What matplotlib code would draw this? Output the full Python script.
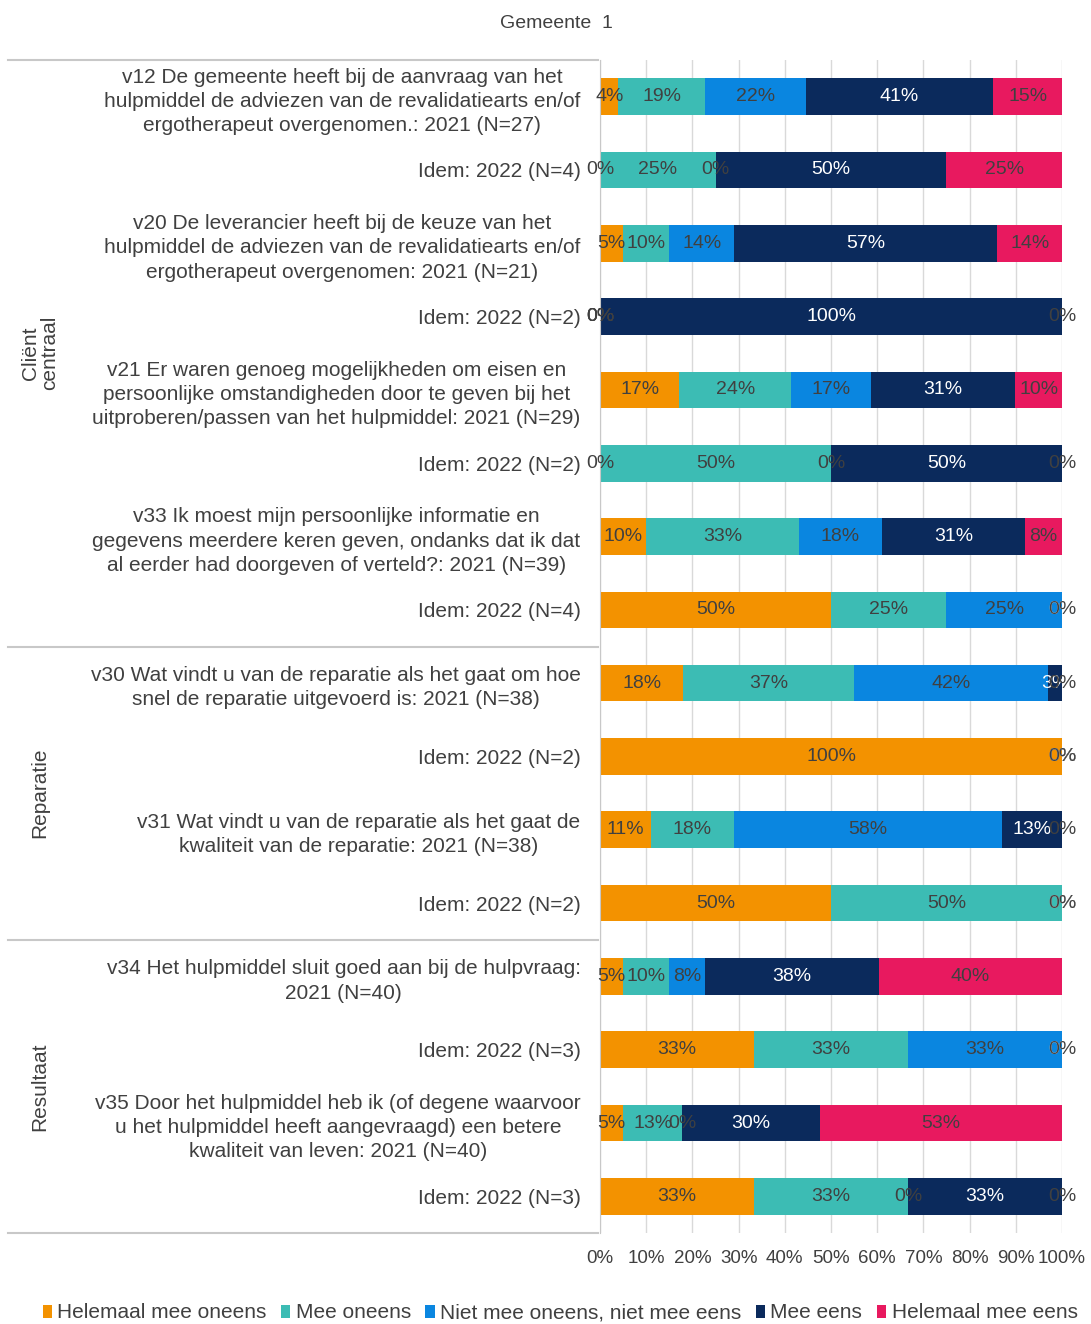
import matplotlib.pyplot as plt
import numpy as np
from matplotlib.lines import Line2D
from matplotlib.patches import Patch

# Font
plt.rcParams['font.family'] = ['Liberation Sans', 'DejaVu Sans']

# Data
categories = [
    'v12 De gemeente heeft bij de aanvraag van het\nhulpmiddel de adviezen van de revalidatiearts en/of\nergotherapeut overgenomen.: 2021 (N=27)',
    'Idem: 2022 (N=4)',
    'v20 De leverancier heeft bij de keuze van het\nhulpmiddel de adviezen van de revalidatiearts en/of\nergotherapeut overgenomen: 2021 (N=21)',
    'Idem: 2022 (N=2)',
    'v21 Er waren genoeg mogelijkheden om eisen en\npersoonlijke omstandigheden door te geven bij het\nuitproberen/passen van het hulpmiddel: 2021 (N=29)',
    'Idem: 2022 (N=2)',
    'v33 Ik moest mijn persoonlijke informatie en\ngegevens meerdere keren geven, ondanks dat ik dat\nal eerder had doorgeven of verteld?: 2021 (N=39)',
    'Idem: 2022 (N=4)',
    'v30 Wat vindt u van de reparatie als het gaat om hoe\nsnel de reparatie uitgevoerd is: 2021 (N=38)',
    'Idem: 2022 (N=2)',
    'v31 Wat vindt u van de reparatie als het gaat de\nkwaliteit van de reparatie: 2021 (N=38)',
    'Idem: 2022 (N=2)',
    'v34 Het hulpmiddel sluit goed aan bij de hulpvraag:\n2021 (N=40)',
    'Idem: 2022 (N=3)',
    'v35 Door het hulpmiddel heb ik (of degene waarvoor\nu het hulpmiddel heeft aangevraagd) een betere\nkwaliteit van leven: 2021 (N=40)',
    'Idem: 2022 (N=3)',
]

series_names = ['Helemaal mee oneens', 'Mee oneens', 'Niet mee oneens, niet mee eens',
                'Mee eens', 'Helemaal mee eens']

helemaal_oneens = [4, 0, 5, 0, 17, 0, 10, 50, 18, 100, 11, 50, 5, 33, 5, 33]
mee_oneens      = [19, 25, 10, 0, 24, 50, 33, 25, 37, 0, 18, 50, 10, 33, 13, 33]
neutraal        = [22, 0, 14, 0, 17, 0, 18, 25, 42, 0, 58, 0, 8, 33, 0, 0]
mee_eens        = [41, 50, 57, 100, 31, 50, 31, 0, 3, 0, 13, 0, 38, 0, 30, 33]
helemaal_eens   = [15, 25, 14, 0, 10, 0, 8, 0, 0, 0, 0, 0, 40, 0, 53, 0]

groups = ['Cliënt\ncentraal', 'Reparatie', 'Resultaat']
group_sizes = [8, 4, 4]

xtick_labels = ['0%', '10%', '20%', '30%', '40%', '50%', '60%', '70%', '80%', '90%', '100%']

colors = ['#F39200', '#3CBCB4', '#0A86E0', '#0B2A5C', '#E8195F']
label_colors = ['#404040', '#404040', '#404040', 'white', '#404040']

series = [helemaal_oneens, mee_oneens, neutraal, mee_eens, helemaal_eens]

# Figure
fig = plt.figure(figsize=(10.91, 13.24), dpi=100)
ax = fig.add_axes([0.55, 0.0687, 0.4234, 0.886])

y = np.arange(len(categories))
left = np.zeros(len(categories))
totals = np.sum(series, axis=0)

for i in range(len(series)):
    vals = np.array(series[i], dtype=float)
    # scale so each bar fills 100%
    widths = vals / totals * 100
    ax.barh(y, widths, left=left, height=0.5, color=colors[i], zorder=2)
    for j in range(len(y)):
        ax.text(left[j] + widths[j] / 2, y[j], str(series[i][j]) + '%',
                ha='center', va='center', fontsize=14,
                color=label_colors[i], zorder=5)
    left = left + widths

ax.set_xlim(0, 100)
ax.set_ylim(len(categories) - 0.5, -0.5)
ax.set_xticks(np.arange(0, 101, 10))
ax.set_xticklabels(xtick_labels, fontsize=13.5, color='#404040')
ax.set_yticks(y)
ax.set_yticklabels(categories, fontsize=15, color='#404040')
for lbl in ax.get_yticklabels():
    lbl.set_multialignment('center')
    lbl.set_linespacing(1.35)
ax.tick_params(axis='both', length=0)
ax.tick_params(axis='y', pad=14)
ax.tick_params(axis='x', pad=12)
ax.grid(axis='x', color='#D9D9D9', linewidth=1, zorder=0)
for s in ['top', 'right', 'bottom']:
    ax.spines[s].set_visible(False)
ax.spines['left'].set_color('#C8C8C8')

# Group separators and labels on the left
W, H = 1091, 1324
row_h = (1233 - 60) / len(categories)
edge = 60
lines = [edge]
for n in group_sizes:
    edge = edge + n * row_h
    lines.append(edge)
for yy in lines:
    fig.add_artist(Line2D([8 / W, 598 / W], [1 - yy / H, 1 - yy / H],
                          color='#C8C8C8', linewidth=1.5))
for g in range(len(groups)):
    mid = (lines[g] + lines[g + 1]) / 2
    fig.text(40 / W, 1 - mid / H, groups[g], rotation=90, ha='center', va='center',
             fontsize=15, color='#404040', multialignment='center', linespacing=1.0)

# Title
fig.text(556 / W, 1 - 24 / H, 'Gemeente  1', ha='center', va='center',
         fontsize=14, color='#404040')

# Legend
handles = [Patch(facecolor=c) for c in colors]
fig.legend(handles, series_names, loc='center', bbox_to_anchor=(560 / W, 1 - 1313 / H),
           ncol=5, frameon=False, fontsize=15, handlelength=0.45, handleheight=0.6,
           handletextpad=0.25, columnspacing=0.7, labelcolor='#404040')

plt.savefig('out.png', dpi=100)
